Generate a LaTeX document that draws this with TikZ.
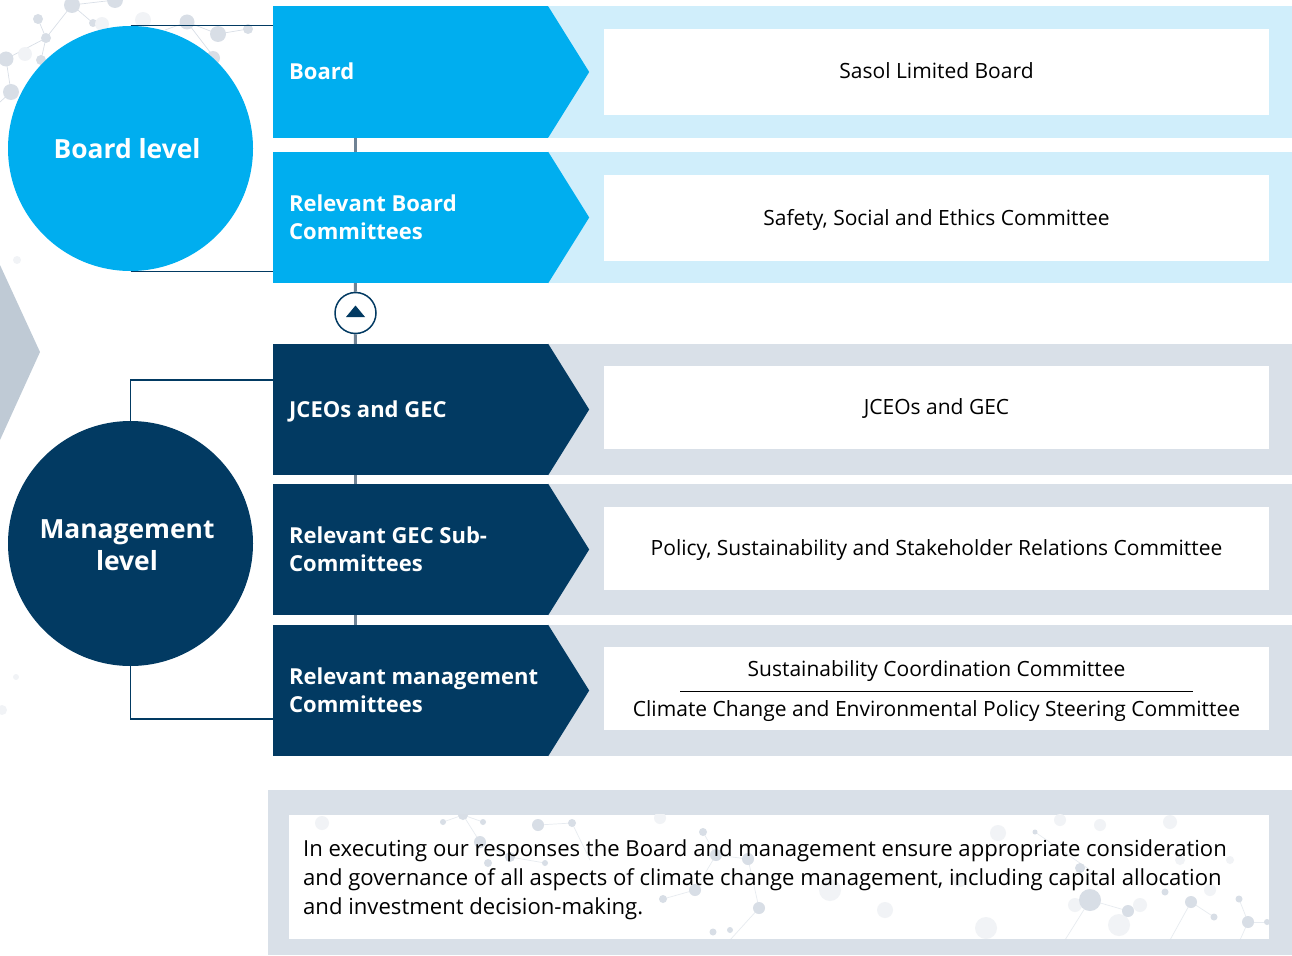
\documentclass[tikz,border=0pt]{standalone}
\usepackage{fontspec}
\setmainfont{Open Sans}
\definecolor{skyblue}{HTML}{00AEEF}
\definecolor{skypale}{HTML}{D0EEFB}
\definecolor{navy}{HTML}{023A62}
\definecolor{navypale}{HTML}{D9E0E8}
\definecolor{stemgrey}{HTML}{6F8294}
\definecolor{dotgrey}{HTML}{D8DEE6}
\definecolor{dotpale}{HTML}{F1F3F6}
\definecolor{chevgrey}{HTML}{BFCAD5}
\tikzset{
  levelnode/.style={circle,minimum size=245pt,inner sep=0pt},
  leveltext/.style={inner sep=0pt,text=white,align=center,
    font=\fontsize{26.4}{32}\selectfont\bfseries},
  armbox/.style={minimum width=275pt,minimum height=131pt,inner sep=0pt},
  armlabel/.style={anchor=west,inner sep=0pt,text=white,align=left,
    font=\fontsize{22}{28}\selectfont\bfseries},
  armsingle/.style={armlabel,text height=19pt,text depth=4pt},
  bandbox/.style={minimum width=744pt,minimum height=131pt,inner sep=0pt},
  whitebox/.style={fill=white,minimum width=665pt,inner sep=0pt,
    text height=18pt,text depth=4pt,font=\fontsize{21}{24}\selectfont},
  bodytext/.style={inner sep=0pt,text height=18pt,text depth=4pt,font=\fontsize{21}{24}\selectfont},
  stem/.style={stemgrey,line width=3pt},
  tie/.style={navy,line width=1.3pt},
  link/.style={dotgrey,line width=.7pt}
}
\begin{document}
\begin{tikzpicture}[x=1pt,y=-1pt]
  \useasboundingbox (0,0) rectangle (1292,955);

  % network, top left
  \foreach \xa/\ya/\xb/\yb in {72/5/46/38,72/5/115/0,72/5/93/23,38/19/46/38,46/38/6/59,46/38/41/60,
      6/59/11/92,11/92/0/102,187/22/218/34,218/34/248/29,187/22/165/30,187/22/213/56}
    \draw[link] (\xa,\ya) -- (\xb,\yb);
  \foreach \x/\y/\r in {72/5/8,38/19/5,46/38/5,6/59/7.5,11/92/8,41/60/5,115/0/8,93/23/4,187/22/7.5,218/34/8,248/29/5,213/58/7}
    \fill[dotgrey] (\x,\y) circle (\r);
  \foreach \x/\y/\r in {25/54/7,143/20/8,102/24/7,17/260/4,16/677/3,2/710/5}
    \fill[dotpale] (\x,\y) circle (\r);

  % grey arrow at the left edge
  \fill[chevgrey] (0,265) -- (40,352) -- (0,440) -- cycle;

  % bands behind the arrows
  \begin{scope}[every node/.style={bandbox,fill=skypale}]
    \node (bandA) at (920,72)  {};
    \node (bandB) at (920,217.5) {};
  \end{scope}
  \begin{scope}[every node/.style={bandbox,fill=navypale}]
    \node (bandC) at (920,409.5) {};
    \node (bandD) at (920,549.5) {};
    \node (bandE) at (920,690.5) {};
  \end{scope}

  % arrows
  \begin{scope}[every node/.style={armbox,fill=skyblue}]
    \node (board) at (410.5,72)  {};
    \node (rbc)   at (410.5,217.5) {};
  \end{scope}
  \begin{scope}[every node/.style={armbox,fill=navy}]
    \node (jceo)  at (410.5,409.5) {};
    \node (rgec)  at (410.5,549.5) {};
    \node (rmc)   at (410.5,690.5) {};
  \end{scope}
  \foreach \n in {board,rbc}
    \fill[skyblue] (\n.north east) -- ([xshift=41pt]\n.east) -- (\n.south east) -- cycle;
  \foreach \n in {jceo,rgec,rmc}
    \fill[navy] (\n.north east) -- ([xshift=41pt]\n.east) -- (\n.south east) -- cycle;

  \node[armsingle] (boardtxt) at (289,72)    {Board};
  \node[armlabel]  (rbctxt)   at (289,217.5) {Relevant Board\\Committees};
  \node[armsingle] (jceotxt)  at (289,409.5) {JCEOs and GEC};
  \node[armlabel]  (rgectxt)  at (289,549.5) {Relevant GEC Sub-\\Committees};
  \node[armlabel]  (rmctxt)   at (289,690.5) {Relevant management\\Committees};

  % white boxes
  \node[whitebox,minimum height=86pt] (boxA) at (936.5,72)    {Sasol Limited Board};
  \node[whitebox,minimum height=86pt] (boxB) at (936.5,218)   {Safety, Social and Ethics Committee};
  \node[whitebox,minimum height=83pt] (boxC) at (936.5,407.5) {JCEOs and GEC};
  \node[whitebox,minimum height=83pt] (boxD) at (936.5,548.5) {Policy, Sustainability and Stakeholder Relations Committee};
  \node[fill=white,minimum width=665pt,minimum height=83pt,inner sep=0pt] (boxE) at (936.5,688.5) {};
  \node[bodytext] (scc) at (936.5,669) {Sustainability Coordination Committee};
  \node[bodytext] (ccc) at (936.5,709) {Climate Change and Environmental Policy Steering Committee};
  \coordinate (ruleL) at (680,691);
  \coordinate (ruleR) at (1193,691);
  \draw[black,line width=1pt] (ruleL) -- (ruleR);

  % stems
  \node[circle,draw=navy,line width=1.5pt,fill=white,minimum size=41pt,inner sep=0pt] (updot) at (355.5,313) {};
  \fill[navy] (346,317) -- (355.5,305.5) -- (365,317) -- cycle;
  \draw[stem] ([xshift=82.5pt]board.south west) -- ([xshift=82.5pt]rbc.north west);
  \draw[stem] ([xshift=82.5pt]rbc.south west) -- (updot.north);
  \draw[stem] (updot.south) -- ([xshift=82.5pt]jceo.north west);
  \draw[stem] ([xshift=82.5pt]jceo.south west) -- ([xshift=82.5pt]rgec.north west);
  \draw[stem] ([xshift=82.5pt]rgec.south west) -- ([xshift=82.5pt]rmc.north west);

  % levels
  \node[levelnode,fill=skyblue] (boardlevel) at (130.5,148.5) {};
  \node[levelnode,fill=navy]    (mgmtlevel)  at (130.5,543.5) {};
  \node[leveltext] (boardlevtxt) at (127,149) {Board level};
  \node[leveltext] (mgmtlevtxt) at (127,545) {Management\\level};
  \draw[tie] (boardlevel.north) -- (boardlevel.north -| board.west);
  \draw[tie] (boardlevel.south) -- (boardlevel.south -| rbc.west);
  \draw[tie] (mgmtlevel.north) |- ([yshift=29.5pt]jceo.west);
  \draw[tie] (mgmtlevel.south) |- ([yshift=-28.5pt]rmc.west);

  % closing panel
  \node[fill=navypale,minimum width=1024pt,minimum height=165pt,inner sep=0pt] (notepanel) at (780,872.5) {};
  \node[fill=white,minimum width=980pt,minimum height=124pt,inner sep=0pt] (notebox) at (779,877) {};
  \begin{scope}
    \clip (notebox.south west) rectangle (notebox.north east);
    \foreach \xa/\ya/\xb/\yb in {443/822/463/815,463/815/483/822,463/815/480/842,538/825/572/823,572/823/590/860,
        480/842/510/857,510/857/545/863,703/832/716/855,716/855/748/859,748/859/759/908,663/899/695/890,695/890/716/855,
        759/908/730/940,1035/832/1090/870,1090/900/1128/911,1128/911/1119/925,1191/902/1214/917,1191/902/1170/940,
        1239/899/1248/922,1248/922/1267/922,1248/922/1240/940,1090/900/1065/940}
      \draw[link,opacity=.6] (\xa,\ya) -- (\xb,\yb);
    \foreach \x/\y/\r in {986/928/11,885/910/8,1119/925/11,998/833/8,322/823/7,660/818/6,1140/905/7,1075/905/7,
        1210/890/6,1060/820/6,1170/822/7,1100/825/6,1180/860/5,830/890/11,960/880/7,1230/860/4}
      \fill[dotpale] (\x,\y) circle (\r);
    \foreach \x/\y/\r in {538/825/6,572/823/4,480/842/6,463/815/5,443/822/3,483/822/3,488/863/4,510/857/5,545/863/3,
        703/832/4,716/855/6,748/859/6,695/890/6,663/899/4,759/908/6,713/932/3.5,730/930/3,
        1090/900/11,1128/911/6,1191/902/6,1214/917/3.5,1239/899/3.5,1248/922/6,1080/868/5,1165/892/3.5,1035/832/2.5,1267/922/3}
      \fill[dotgrey] (\x,\y) circle (\r);
  \end{scope}
  \node[anchor=north west,inner sep=0pt,align=left,font=\fontsize{22.1}{29.4}\selectfont] (notetxt) at (303,839)
    {In executing our responses the Board and management ensure appropriate consideration\\
     and governance of all aspects of climate change management, including capital allocation\\
     and investment decision-making.};
\end{tikzpicture}
\end{document}
